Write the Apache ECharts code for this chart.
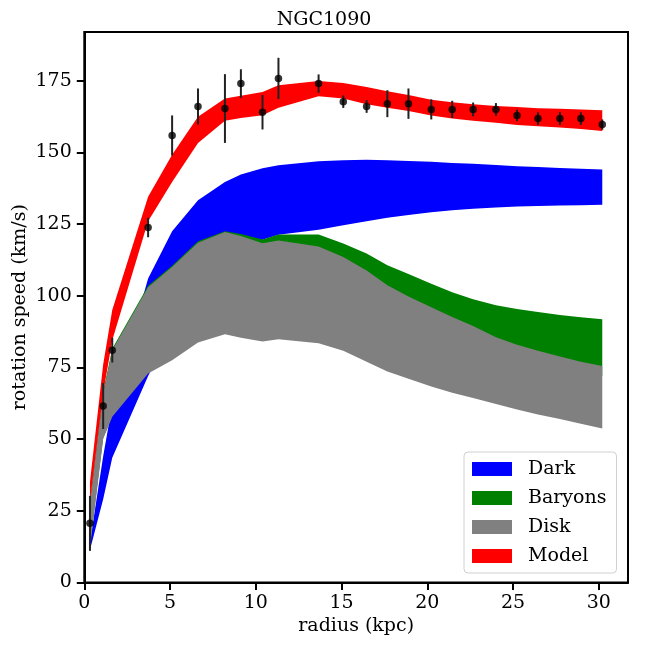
<!DOCTYPE html>
<html>
<head>
<meta charset="utf-8">
<script src="https://cdn.jsdelivr.net/npm/echarts@6/dist/echarts.min.js"></script>
<style>
  html, body { margin: 0; padding: 0; background: #fff; }
  #chart { width: 648px; height: 648px; }
</style>
</head>
<body>
<div id="chart"></div>
<script>
(function() {
    'use strict';

    // radii (kpc) of the measured points; the model bands share them
    var radius = [0.33, 1.1, 1.63, 3.72, 5.12, 6.63, 8.2, 9.13, 10.39, 11.32, 13.66, 15.1,
                  16.46, 17.67, 18.9, 20.23, 21.45, 22.67, 24.0, 25.23, 26.45, 27.73, 28.95, 30.2];

    // observed rotation speed and its error (km/s)
    var vObs = [20.6, 61.5, 81, 123.8, 155.9, 166, 165.3, 174, 164, 175.8, 174, 167.7,
                166, 167, 167, 165, 165, 165, 165, 162.9, 161.8, 161.8, 161.8, 159.7];
    var vErr = [9.6, 8, 4.3, 3.4, 7, 6.3, 12, 5, 6, 7.2, 3.2, 2.2,
                2.2, 4.7, 5.3, 3.5, 3, 2.4, 2.2, 2, 2.2, 2.2, 2.2, 1.8];

    // bands: lower / upper edge of each component
    var darkLo = [11.3, 29, 43.5, 72, 88, 100, 110, 115, 119.5, 121.3, 123, 124.6,
                  126, 127.2, 128.2, 129.1, 129.8, 130.3, 130.8, 131.1, 131.3, 131.5, 131.6, 131.7];
    var darkHi = [14, 44, 62, 106, 122.5, 133.3, 139.7, 142.3, 144.5, 145.5, 146.9, 147.3,
                  147.4, 147.3, 147.0, 146.7, 146.3, 146.0, 145.6, 145.2, 144.9, 144.6, 144.3, 144.0];

    var baryLo = [13, 50.5, 58, 74, 80, 86, 89.5, 89.2, 88.7, 88.4, 87, 85.8,
                  84.5, 83.4, 82.3, 81.1, 80, 78.9, 77.7, 76.6, 75.4, 74.3, 73.2, 72];
    var baryHi = [28.5, 66.5, 81.5, 103.5, 110.5, 119, 122.5, 121.5, 119.6, 121.4, 121.4, 118.2,
                  114.7, 110.6, 107.6, 104.2, 101.2, 98.8, 96.7, 95.4, 94.3, 93.3, 92.5, 91.8];

    var diskLo = [12, 50, 57.8, 72.9, 77.5, 83.7, 86.6, 85.3, 84, 84.8, 83.4, 80.8,
                  77, 73.6, 71, 68.3, 66.2, 64.3, 62.2, 60.3, 58.6, 57, 55.3, 53.7];
    var diskHi = [28, 66, 81, 103, 110, 118.5, 122.2, 120.8, 118.3, 119.3, 117.2, 113.5,
                  108.8, 103.7, 99.7, 96, 92.6, 89.4, 85.5, 82.9, 80.8, 78.8, 77, 75.5];

    var modelLo = [28, 66, 84.5, 126, 139.7, 153.3, 161, 162, 163, 165.6, 169.6, 168.8,
                   166.8, 165.6, 164.4, 162.9, 161.8, 161, 160.3, 159.6, 159.1, 158.7, 158.2, 157.5];
    var modelHi = [35, 76, 95, 134.5, 149.2, 162.4, 168.8, 169.8, 171.1, 173.4, 174.9, 174.2,
                   172.8, 171.3, 170, 168.4, 167.5, 166.8, 166.2, 165.8, 165.4, 165.2, 165, 164.7];

    var xTicks = [0, 5, 10, 15, 20, 25, 30];
    var yTicks = [0, 25, 50, 75, 100, 125, 150, 175];

    var serif = 'DejaVu Serif';
    var fs = 19;

    function bandSeries(name, color, lo, hi) {
        return {
            name: name,
            type: 'custom',
            itemStyle: { color: color },
            data: radius.map(function(r, i) { return [r, lo[i], hi[i]]; }),
            encode: { x: 0, y: [1, 2] },
            clip: true,
            renderItem: function(params, api) {
                if (params.dataIndex !== 0) return;
                var pts = [], i;
                for (i = 0; i < radius.length; i++) pts.push(api.coord([radius[i], hi[i]]));
                for (i = radius.length - 1; i >= 0; i--) pts.push(api.coord([radius[i], lo[i]]));
                return { type: 'polygon', shape: { points: pts }, style: { fill: color } };
            }
        };
    }

    var myChart = echarts.init(document.getElementById('chart'));

    myChart.setOption({
        animation: false,
        backgroundColor: '#fff',
        title: {
            text: 'NGC1090',
            left: 'center',
            top: 6,
            textStyle: { fontFamily: serif, fontSize: fs, fontWeight: 'normal', color: '#000' }
        },
        grid: {
            left: 84.3, right: 20, top: 32, bottom: 65.6,
            outerBoundsMode: 'none',
            containLabel: false,
            show: true, borderColor: '#000', borderWidth: 2, backgroundColor: 'transparent'
        },
        legend: {
            data: ['Dark', 'Baryons', 'Disk', 'Model'],
            orient: 'vertical',
            left: 464, top: 452,
            itemWidth: 40, itemHeight: 14, itemGap: 9,
            icon: 'rect',
            padding: [7, 10, 7, 8],
            borderColor: '#d0d0d0', borderWidth: 1, borderRadius: 4,
            backgroundColor: 'rgba(255,255,255,0.8)',
            textStyle: { fontFamily: serif, fontSize: fs, color: '#000', lineHeight: 20, padding: [0, 0, 0, 11] }
        },
        xAxis: {
            type: 'value',
            min: 0, max: 31.7,
            name: 'radius (kpc)',
            nameLocation: 'middle',
            nameGap: 34,
            nameMoveOverlap: false,
            nameTextStyle: { fontFamily: serif, fontSize: fs, color: '#000' },
            axisLine: { show: true, onZero: false, lineStyle: { color: '#000', width: 2 } },
            axisTick: { show: true, inside: false, length: 7.5, lineStyle: { color: '#000', width: 2 }, customValues: xTicks },
            axisLabel: { fontFamily: serif, fontSize: fs, color: '#000', margin: 11, customValues: xTicks },
            splitLine: { show: false }
        },
        yAxis: {
            type: 'value',
            min: 0, max: 192,
            name: 'rotation speed (km/s)',
            nameLocation: 'middle',
            nameGap: 55,
            nameMoveOverlap: false,
            nameTextStyle: { fontFamily: serif, fontSize: fs, color: '#000' },
            axisLine: { show: true, onZero: false, lineStyle: { color: '#000', width: 2 } },
            axisTick: { show: true, inside: false, length: 7.5, lineStyle: { color: '#000', width: 2 }, customValues: yTicks },
            axisLabel: { fontFamily: serif, fontSize: fs, color: '#000', margin: 12.5, customValues: yTicks },
            splitLine: { show: false }
        },
        series: [
            bandSeries('Dark', '#0000ff', darkLo, darkHi),
            bandSeries('Baryons', '#008000', baryLo, baryHi),
            bandSeries('Disk', '#808080', diskLo, diskHi),
            bandSeries('Model', '#ff0000', modelLo, modelHi),
            {
                name: 'errors',
                type: 'custom',
                data: radius.map(function(r, i) { return [r, vObs[i] - vErr[i], vObs[i] + vErr[i]]; }),
                encode: { x: 0, y: [1, 2] },
                z: 3,
                renderItem: function(params, api) {
                    var a = api.coord([api.value(0), api.value(1)]);
                    var b = api.coord([api.value(0), api.value(2)]);
                    return {
                        type: 'line',
                        shape: { x1: a[0], y1: a[1], x2: b[0], y2: b[1] },
                        style: { stroke: '#222', lineWidth: 2 }
                    };
                }
            },
            {
                name: 'data',
                type: 'scatter',
                data: radius.map(function(r, i) { return [r, vObs[i]]; }),
                symbol: 'circle',
                symbolSize: 7.5,
                itemStyle: { color: '#000' },
                z: 4
            }
        ]
    });
})();
</script>
</body>
</html>
